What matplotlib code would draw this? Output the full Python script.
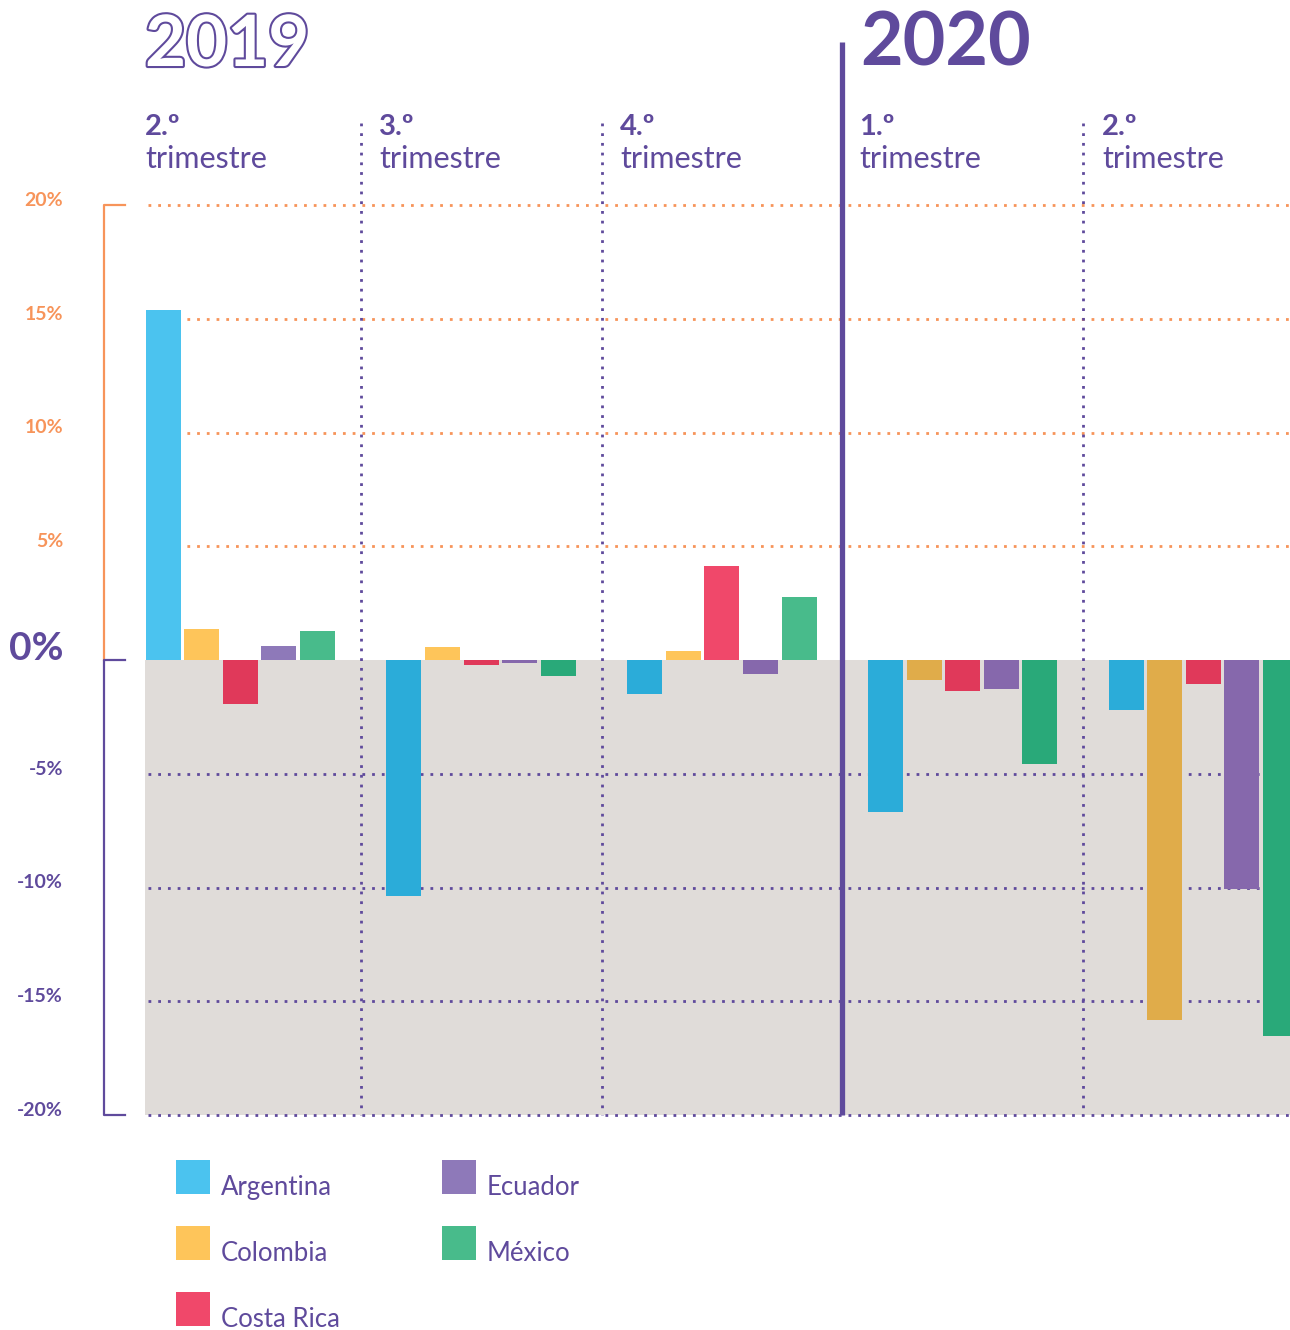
import matplotlib.pyplot as plt
import matplotlib.patheffects as pe
from matplotlib.patches import Rectangle

plt.rcParams['font.family'] = ['Lato', 'DejaVu Sans']

# data: quarterly change (%) per country
quarters = ['2.º', '3.º', '4.º', '1.º', '2.º']
countries = ['Argentina', 'Colombia', 'Costa Rica', 'Ecuador', 'México']
argentina = [15.4, -10.37, -1.5, -6.7, -2.2]
colombia = [1.36, 0.57, 0.4, -0.88, -15.82]
costa_rica = [-1.93, -0.22, 4.13, -1.36, -1.05]
ecuador = [0.62, -0.13, -0.62, -1.27, -10.07]
mexico = [1.27, -0.7, 2.77, -4.57, -16.53]
series = [argentina, colombia, costa_rica, ecuador, mexico]
yticks = [20, 15, 10, 5, 0, -5, -10, -15, -20]

pos_colors = ['#4BC3EF', '#FEC55A', '#F0486A', '#8E79B9', '#48BB8B']
neg_colors = ['#2BACD9', '#E0AC4A', '#E0395A', '#8668AC', '#29A979']
purple = '#5F4A9C'
orange = '#F7945A'
grey = '#E0DCD9'

W, H = 1290, 1330
fig = plt.figure(figsize=(W / 100, H / 100), dpi=100)
ax = fig.add_axes([0, 0, 1, 1])
ax.axis('off')

COL = 240.75

# pixel -> data helpers for the decorations
def px(x):
    return (x - 120) / COL

def py(y):
    return (660 - y) / 22.75

ax.set_xlim(px(0), px(W))
ax.set_ylim(py(H), py(0))

# grey negative area
ax.add_patch(Rectangle((px(145), -20), px(W) - px(145), 20, color=grey, zorder=0, lw=0))

dots = (0, (1, 2.5))
for t in [5, 10, 15, 20]:
    ax.plot([px(148), px(W)], [t, t], color=orange, lw=2, ls=dots, zorder=1)
for t in [-5, -10, -15, -20]:
    ax.plot([px(148), px(W)], [t, t], color=purple, lw=2, ls=dots, zorder=1)

# quarter separators
for c in [1, 2, 4]:
    ax.plot([c, c], [py(123), -20], color=purple, lw=2, ls=dots, zorder=1)
ax.plot([3, 3], [py(42), -20], color=purple, lw=3.8, zorder=5, solid_capstyle='butt')

# bars
width = 35 / COL
step = 38.6 / COL
for k, vals in enumerate(series):
    xs = [i + 0.5 + (k - 2) * step for i in range(len(vals))]
    cols = [pos_colors[k] if v >= 0 else neg_colors[k] for v in vals]
    ax.bar(xs, vals, width=width, color=cols, zorder=3, lw=0)

# left bracket axis
xb = px(104)
ax.plot([px(125), xb, xb], [20, 20, 0], color=orange, lw=1.6, zorder=2)
ax.plot([px(125), xb, xb, px(125)], [0, 0, -20, -20], color=purple, lw=1.6, zorder=2)

for t in yticks:
    if t == 0:
        ax.text(px(63), 0.5, '0%', ha='right', va='center', fontsize=28,
                fontweight='bold', color=purple)
    else:
        ax.text(px(63), t + 0.2, f'{t}%', ha='right', va='center', fontsize=14,
                fontweight='bold', color=orange if t > 0 else purple)

# year headers
ax.text(px(145), py(66), '2019', ha='left', va='baseline', fontsize=51,
        fontweight='bold', color='white',
        path_effects=[pe.withStroke(linewidth=3, foreground=purple)])
ax.text(px(860), py(66), '2020', ha='left', va='baseline', fontsize=53,
        fontweight='bold', color=purple)

# quarter labels
label_x = [145, 379, 620, 859, 1102]
for lx, q in zip(label_x, quarters):
    ax.text(px(lx), py(135), q, ha='left', va='baseline', fontsize=21,
            fontweight='bold', color=purple)
    ax.text(px(lx), py(168), 'trimestre', ha='left', va='baseline', fontsize=22,
            color=purple)

# legend
leg_pos = [(176, 1160), (176, 1226), (176, 1292), (442, 1160), (442, 1226)]
for (lx, ly), name, col in zip(leg_pos, countries, pos_colors):
    ax.add_patch(Rectangle((px(lx), py(ly + 34)), px(lx + 34) - px(lx),
                           py(ly) - py(ly + 34), color=col, lw=0, clip_on=False))
    ax.text(px(lx + 45), py(1195 + (ly - 1160)), name, ha='left', va='baseline',
            fontsize=18.5, color=purple)

plt.savefig('out.png', dpi=100)
